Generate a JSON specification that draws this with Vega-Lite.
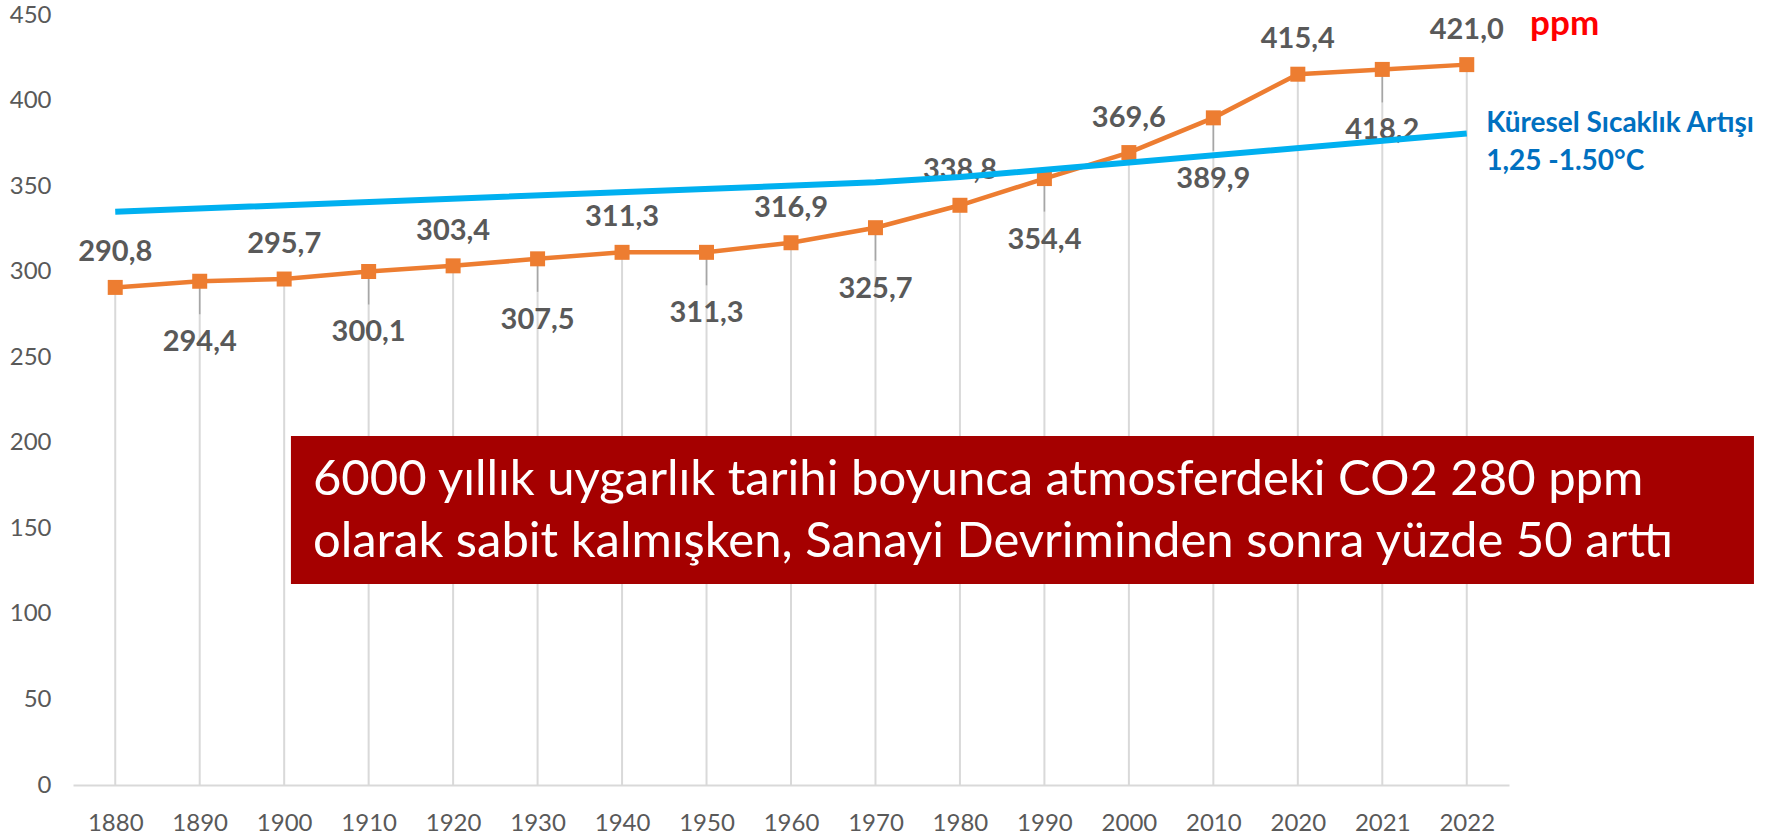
{
  "$schema": "https://vega.github.io/schema/vega-lite/v6.json",
  "autosize": "none",
  "width": 1436,
  "height": 770,
  "padding": {"left": 73, "top": 15, "right": 280, "bottom": 50},
  "background": "white",
  "config": {
    "font": "Lato",
    "view": {"stroke": null},
    "locale": {"number": {"decimal": ",", "thousands": ".", "grouping": [3], "currency": ["", " TL"]}},
    "axisY": {"domain": false, "ticks": false, "tickSize": 0, "grid": false, "labelFont": "Lato", "labelFontSize": 24, "labelColor": "#595959", "labelPadding": 22},
    "axisX": {"domain": true, "domainColor": "#d9d9d9", "domainWidth": 2, "ticks": false, "tickSize": 0, "grid": false, "labelFont": "Lato", "labelFontSize": 24, "labelColor": "#595959", "labelPadding": 26, "labelAngle": 0}
  },
  "datasets": {
    "co2": [
      {"year": "1880", "ppm": 290.8, "side": "above"},
      {"year": "1890", "ppm": 294.4, "side": "below"},
      {"year": "1900", "ppm": 295.7, "side": "above"},
      {"year": "1910", "ppm": 300.1, "side": "below"},
      {"year": "1920", "ppm": 303.4, "side": "above"},
      {"year": "1930", "ppm": 307.5, "side": "below"},
      {"year": "1940", "ppm": 311.3, "side": "above"},
      {"year": "1950", "ppm": 311.3, "side": "below"},
      {"year": "1960", "ppm": 316.9, "side": "above"},
      {"year": "1970", "ppm": 325.7, "side": "below"},
      {"year": "1980", "ppm": 338.8, "side": "above"},
      {"year": "1990", "ppm": 354.4, "side": "below"},
      {"year": "2000", "ppm": 369.6, "side": "above"},
      {"year": "2010", "ppm": 389.9, "side": "below"},
      {"year": "2020", "ppm": 415.4, "side": "above"},
      {"year": "2021", "ppm": 418.2, "side": "below"},
      {"year": "2022", "ppm": 421.0, "side": "above"}
    ],
    "trend": [
      {"year": "1880", "value": 335.0},
      {"year": "1970", "value": 352.2},
      {"year": "1980", "value": 355.3},
      {"year": "2022", "value": 380.7}
    ]
  },
  "resolve": {"scale": {"x": "independent"}, "axis": {"x": "independent"}},
  "layer": [
    {
      "data": {"name": "co2"},
      "mark": {"type": "rule", "color": "#d9d9d9", "strokeWidth": 2},
      "encoding": {
        "x": {"field": "year", "type": "ordinal", "title": null,
              "scale": {"type": "point", "padding": 0.5, "domain": ["1880","1890","1900","1910","1920","1930","1940","1950","1960","1970","1980","1990","2000","2010","2020","2021","2022"]}},
        "y": {"field": "ppm", "type": "quantitative", "title": null,
              "scale": {"domain": [0, 450], "nice": false, "zero": true},
              "axis": {"values": [0, 50, 100, 150, 200, 250, 300, 350, 400, 450]}},
        "y2": {"datum": 0}
      }
    },
    {
      "data": {"name": "co2"},
      "transform": [{"filter": {"field": "side", "equal": "below"}}],
      "mark": {"type": "rule", "color": "#a6a6a6", "strokeWidth": 1.5, "y2Offset": 33},
      "encoding": {
        "x": {"field": "year", "type": "ordinal", "axis": null,
              "scale": {"type": "point", "padding": 0.5, "domain": ["1880","1890","1900","1910","1920","1930","1940","1950","1960","1970","1980","1990","2000","2010","2020","2021","2022"]}},
        "y": {"field": "ppm", "type": "quantitative", "title": null},
        "y2": {"field": "ppm"}
      }
    },
    {
      "data": {"name": "co2"},
      "mark": {"type": "line", "color": "#ed7d31", "strokeWidth": 4.5},
      "encoding": {
        "x": {"field": "year", "type": "ordinal", "axis": null,
              "scale": {"type": "point", "padding": 0.5, "domain": ["1880","1890","1900","1910","1920","1930","1940","1950","1960","1970","1980","1990","2000","2010","2020","2021","2022"]}},
        "y": {"field": "ppm", "type": "quantitative", "title": null}
      }
    },
    {
      "data": {"name": "co2"},
      "mark": {"type": "square", "color": "#ed7d31", "size": 225, "opacity": 1, "filled": true},
      "encoding": {
        "x": {"field": "year", "type": "ordinal", "axis": null,
              "scale": {"type": "point", "padding": 0.5, "domain": ["1880","1890","1900","1910","1920","1930","1940","1950","1960","1970","1980","1990","2000","2010","2020","2021","2022"]}},
        "y": {"field": "ppm", "type": "quantitative", "title": null}
      }
    },
    {
      "data": {"name": "co2"},
      "transform": [{"filter": {"field": "side", "equal": "above"}}],
      "mark": {"type": "text", "font": "Lato", "fontSize": 29, "fontWeight": "bold", "color": "#595959", "baseline": "middle", "align": "center", "dy": -35},
      "encoding": {
        "x": {"field": "year", "type": "ordinal", "axis": null,
              "scale": {"type": "point", "padding": 0.5, "domain": ["1880","1890","1900","1910","1920","1930","1940","1950","1960","1970","1980","1990","2000","2010","2020","2021","2022"]}},
        "y": {"field": "ppm", "type": "quantitative", "title": null},
        "text": {"field": "ppm", "type": "quantitative", "format": ".1f"}
      }
    },
    {
      "data": {"name": "co2"},
      "transform": [{"filter": {"field": "side", "equal": "below"}}],
      "mark": {"type": "text", "font": "Lato", "fontSize": 29, "fontWeight": "bold", "color": "#595959", "baseline": "middle", "align": "center", "dy": 61},
      "encoding": {
        "x": {"field": "year", "type": "ordinal", "axis": null,
              "scale": {"type": "point", "padding": 0.5, "domain": ["1880","1890","1900","1910","1920","1930","1940","1950","1960","1970","1980","1990","2000","2010","2020","2021","2022"]}},
        "y": {"field": "ppm", "type": "quantitative", "title": null},
        "text": {"field": "ppm", "type": "quantitative", "format": ".1f"}
      }
    },
    {
      "data": {"values": [{}]},
      "mark": {"type": "rect", "color": "#a50000", "clip": false},
      "encoding": {
        "x": {"datum": 2.58, "type": "quantitative", "axis": null, "scale": {"domain": [0, 17], "nice": false, "zero": false}},
        "x2": {"datum": 19.9},
        "y": {"datum": 204, "type": "quantitative", "title": null},
        "y2": {"datum": 117.5}
      }
    },
    {
      "data": {"values": [{}]},
      "mark": {"type": "text", "font": "Lato", "fontSize": 49, "color": "white", "align": "left", "baseline": "alphabetic", "lineHeight": 62,
               "text": ["6000 yıllık uygarlık tarihi boyunca atmosferdeki CO2 280 ppm", "olarak sabit kalmışken, Sanayi Devriminden sonra yüzde 50 arttı"]},
      "encoding": {
        "x": {"datum": 2.84, "type": "quantitative", "axis": null, "scale": {"domain": [0, 17], "nice": false, "zero": false}},
        "y": {"datum": 169.5, "type": "quantitative", "title": null}
      }
    },
    {
      "data": {"name": "trend"},
      "mark": {"type": "line", "color": "#00b0f0", "strokeWidth": 6},
      "encoding": {
        "x": {"field": "year", "type": "ordinal", "axis": null,
              "scale": {"type": "point", "padding": 0.5, "domain": ["1880","1890","1900","1910","1920","1930","1940","1950","1960","1970","1980","1990","2000","2010","2020","2021","2022"]}},
        "y": {"field": "value", "type": "quantitative", "title": null}
      }
    },
    {
      "data": {"values": [{}]},
      "mark": {"type": "text", "font": "Lato", "fontSize": 28, "fontWeight": "bold", "color": "#0070c0", "align": "left", "baseline": "alphabetic", "lineHeight": 38,
               "text": ["Küresel Sıcaklık Artışı", "1,25 -1.50°C"]},
      "encoding": {
        "x": {"datum": 16.73, "type": "quantitative", "axis": null, "scale": {"domain": [0, 17], "nice": false, "zero": false}},
        "y": {"datum": 381.6, "type": "quantitative", "title": null}
      }
    },
    {
      "data": {"values": [{}]},
      "mark": {"type": "text", "font": "Lato", "fontSize": 35, "fontWeight": "bold", "color": "#ff0000", "align": "left", "baseline": "alphabetic", "text": "ppm"},
      "encoding": {
        "x": {"datum": 17.25, "type": "quantitative", "axis": null, "scale": {"domain": [0, 17], "nice": false, "zero": false}},
        "y": {"datum": 438.3, "type": "quantitative", "title": null}
      }
    }
  ]
}
